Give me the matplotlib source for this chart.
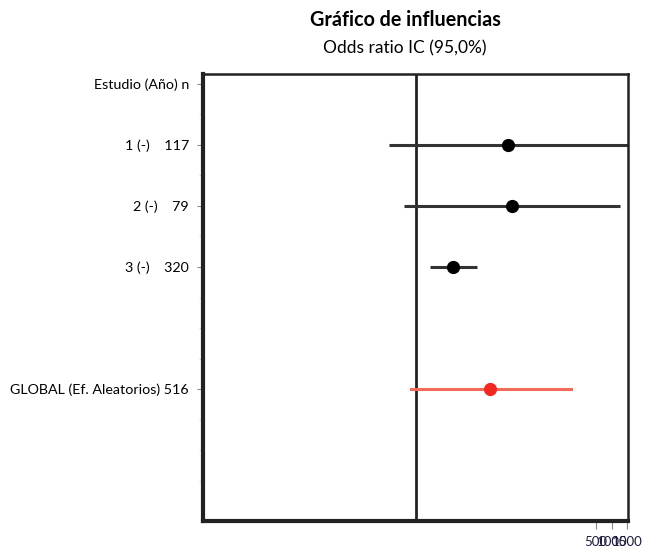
import matplotlib
matplotlib.use("Agg")
import matplotlib.pyplot as plt

# forest plot data (odds ratio scale as drawn)
labels = ["Estudio (Año) n", "1 (-)    117", "2 (-)    79", "3 (-)    320", "GLOBAL (Ef. Aleatorios) 516"]
label_rows = [0, 1, 2, 3, 5]
study_rows = [1, 2, 3]
study_or = [3.18, 3.27, 1.88]
study_lo = [0.38, 0.73, 1.34]
study_hi = [6.6, 5.81, 2.45]
global_row = 5
global_or = 2.75
global_lo = 0.89
global_hi = 4.66
ref_value = 1.0
xtick_pos = [5.25, 5.62, 5.98]
xtick_labels = ["500", "1000", "1500"]

plt.rcParams['font.family'] = ['Lato', 'DejaVu Sans']

fig = plt.figure(figsize=(6.46, 5.5), dpi=100)
ax = fig.add_axes([203/646, 1 - 521/550, 425/646, 447/550])

ax.axvline(ref_value, color="#222222", lw=2)
for r, o, lo, hi in zip(study_rows, study_or, study_lo, study_hi):
    ax.plot([lo, hi], [r, r], color="#333333", lw=2.2, solid_capstyle="butt")
    ax.plot(o, r, "o", color="black", ms=8.5)
ax.plot([global_lo, global_hi], [global_row, global_row], color="#f26a5a", lw=2.2)
ax.plot(global_or, global_row, "o", color="#ee2a22", ms=8.5)

ax.set_xlim(-4, 6)
ax.set_ylim(7.16, -0.16)
ax.set_yticks(label_rows)
ax.set_yticklabels(labels, fontsize=10.3)
ax.set_yticks([0.5, 1.5, 2.5, 3.5, 4, 4.5, 5.5, 6, 6.5], minor=True)
ax.tick_params(axis="y", which="major", length=4, color="#888888", pad=6)
ax.tick_params(axis="y", which="minor", length=3, color="#cccccc")
ax.set_xticks(xtick_pos)
ax.set_xticklabels(xtick_labels, fontsize=9.5, color="#1a1a3a")
ax.tick_params(axis="x", length=6, color="#888888", pad=5)

ax.spines["left"].set_linewidth(3)
ax.spines["bottom"].set_linewidth(3)
ax.spines["top"].set_linewidth(1.8)
ax.spines["right"].set_linewidth(1.8)
for s in ax.spines.values():
    s.set_color("#222222")

fig.text(405/646, 1 - 20/550, "Gráfico de influencias", ha="center", va="center",
         fontsize=14.2, fontweight="bold")
fig.text(405/646, 1 - 48/550, "Odds ratio IC (95,0%)", ha="center", va="center", fontsize=12.5)

fig.savefig("out.png", dpi=100)
